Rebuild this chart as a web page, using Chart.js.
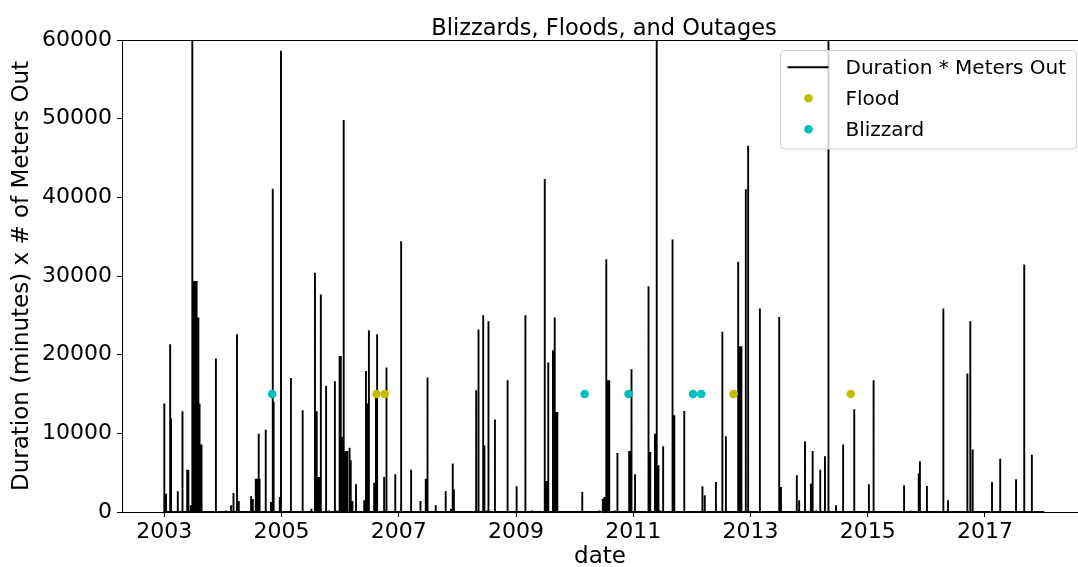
<!DOCTYPE html>
<html>
<head>
<meta charset="utf-8">
<title>Blizzards, Floods, and Outages</title>
<script src="https://cdn.jsdelivr.net/npm/chart.js@4/dist/chart.umd.min.js"></script>
<style>
  html, body { margin: 0; padding: 0; background: #fff; overflow: hidden; }
  #wrap { width: 1078px; height: 567px; position: relative; }
</style>
</head>
<body>
<div id="wrap"><canvas id="chart" width="1078" height="567"></canvas></div>
<script>
// Outage events: date (decimal year) and duration (minutes) x number of meters out
const outageDates = [
  2003.00, 2003.03, 2003.10, 2003.115, 2003.23, 2003.31, 2003.39, 2003.41, 2003.45, 2003.478,
  2003.495, 2003.505, 2003.515, 2003.525, 2003.535, 2003.545, 2003.555, 2003.565, 2003.575,
  2003.585, 2003.595, 2003.605, 2003.615, 2003.625, 2003.635, 2003.88,
  2004.05, 2004.14, 2004.18, 2004.24, 2004.27, 2004.48, 2004.51, 2004.56, 2004.575, 2004.59,
  2004.61, 2004.625, 2004.73, 2004.82, 2004.85, 2004.865, 2004.97, 2004.99,
  2005.16, 2005.36, 2005.51, 2005.57, 2005.585, 2005.60, 2005.615, 2005.63, 2005.645, 2005.67,
  2005.76, 2005.81, 2005.91, 2005.94, 2005.99,
  2006.01, 2006.03, 2006.06, 2006.09, 2006.12, 2006.16, 2006.18, 2006.21, 2006.27, 2006.41,
  2006.44, 2006.46, 2006.49, 2006.58, 2006.61, 2006.63, 2006.75, 2006.79, 2006.94,
  2007.04, 2007.21, 2007.37, 2007.46, 2007.49, 2007.63, 2007.80, 2007.89, 2007.92, 2007.94,
  2008.32, 2008.36, 2008.44, 2008.46, 2008.50, 2008.53, 2008.64, 2008.85, 2008.86,
  2009.01, 2009.16, 2009.27, 2009.49, 2009.52, 2009.55, 2009.63, 2009.66, 2009.675, 2009.69, 2009.705,
  2010.13, 2010.42, 2010.48, 2010.51, 2010.54, 2010.56, 2010.575, 2010.59, 2010.69, 2010.73,
  2010.93, 2010.95, 2010.97,
  2011.03, 2011.26, 2011.29, 2011.37, 2011.40, 2011.43, 2011.46, 2011.51, 2011.67, 2011.70, 2011.87,
  2012.18, 2012.22, 2012.41, 2012.52, 2012.58, 2012.79, 2012.815, 2012.83, 2012.845, 2012.92, 2012.96,
  2013.16, 2013.49, 2013.52, 2013.79, 2013.83, 2013.93,
  2014.03, 2014.06, 2014.12, 2014.19, 2014.27, 2014.33, 2014.46, 2014.58, 2014.77,
  2015.02, 2015.10, 2015.62, 2015.73, 2015.87, 2015.89,
  2016.01, 2016.29, 2016.37, 2016.70, 2016.75, 2016.79,
  2017.12, 2017.26, 2017.53, 2017.67, 2017.80
];
const outageValues = [
  13780, 2330, 21330, 11870, 2630, 12800, 5380, 5380, 850, 80000,
  29380, 29380, 29380, 29380, 29380, 29380, 24720, 24720, 24720,
  13780, 13780, 13780, 8565, 8565, 8565, 19500,
  200, 850, 2420, 22600, 1400, 2000, 1650, 4240, 4240, 4240,
  9960, 4240, 10470, 1270, 41090, 14000, 1900, 58640,
  17045, 12930, 400, 30400, 12800, 12800, 4450, 4450, 4450, 27645,
  16030, 200, 16620, 200, 19840,
  19840, 9540, 49820, 7760, 7760, 8180, 6570, 1400, 3520, 1480,
  17935, 13780, 23110, 3730, 14630, 22600, 4450, 18360, 4790,
  34430, 5380, 1400, 4240, 17090, 850, 2670, 400, 6150, 2880,
  15480, 23190, 25020, 8480, 200, 24250, 11745, 13780, 16750,
  3265, 25020, 200, 42315, 3940, 19000, 20560, 24720, 12720, 12720, 12720,
  2540, 200, 1700, 1900, 32140, 16750, 16750, 16750, 200, 7500,
  7760, 7760, 18150,
  4790, 28700, 7630, 9960, 80000, 5940, 200, 8350, 34640, 12300, 12850,
  3265, 2120, 3815, 22900, 9625, 31800, 21070, 21070, 21070, 41040, 46555,
  25860, 24800, 3180, 4660, 1480, 8990,
  3600, 7760, 200, 5380, 7080, 80000, 850, 8565, 13060,
  3520, 16750, 3390, 200, 4880, 6445,
  3300, 25860, 1480, 17600, 24250, 7930,
  3815, 6780, 4155, 31460, 7290
];
const seriesStart = 2003.0;
const seriesEnd = 2018.01;

// Storm events, marked at a fixed level
const floodDates = [2006.62, 2006.76, 2012.71, 2014.71];
const blizzardDates = [2004.84, 2010.17, 2010.92, 2012.02, 2012.16];
const eventLevel = 15000;

// Axis ticks
const yearTicks = [2003, 2005, 2007, 2009, 2011, 2013, 2015, 2017];
const valueTicks = [0, 10000, 20000, 30000, 40000, 50000, 60000];
const xRange = [2002.278, 2018.587];
const yRange = [0, 60000];

// Daily series: zero between outages, a vertical stroke at each outage
const outageSeries = [{ x: seriesStart, y: 0 }];
outageDates.forEach((d, i) => {
  outageSeries.push({ x: d, y: 0 }, { x: d, y: outageValues[i] }, { x: d, y: 0 });
});
outageSeries.push({ x: seriesEnd, y: 0 });

const floodPoints = floodDates.map(d => ({ x: d, y: eventLevel }));
const blizzardPoints = blizzardDates.map(d => ({ x: d, y: eventLevel }));

const FONT = 'DejaVu Sans';
Chart.defaults.color = '#000';
Chart.defaults.font.family = FONT;

// Title drawn above the plot area, and the top spine
const frameAndTitle = {
  id: 'frameAndTitle',
  afterDraw(chart) {
    const { ctx, chartArea: a } = chart;
    ctx.save();
    ctx.strokeStyle = '#000';
    ctx.lineWidth = 1;
    ctx.beginPath();
    ctx.moveTo(a.left, a.top + 0.5);
    ctx.lineTo(a.right, a.top + 0.5);
    ctx.stroke();
    ctx.fillStyle = '#000';
    ctx.font = '22.5px "' + FONT + '"';
    ctx.textAlign = 'center';
    ctx.textBaseline = 'alphabetic';
    ctx.fillText('Blizzards, Floods, and Outages', (a.left + a.right) / 2 + 4, a.top - 5);
    ctx.restore();
  }
};

// Legend box in the upper right of the plot area
const innerLegend = {
  id: 'innerLegend',
  afterDraw(chart) {
    const { ctx, chartArea: a } = chart;
    const ds = chart.data.datasets;
    const w = 296, h = 98.5;
    const x0 = a.right - 1.5 - w, y0 = a.top + 10.5;
    ctx.save();
    ctx.beginPath();
    ctx.roundRect(x0, y0, w, h, 4);
    ctx.fillStyle = 'rgba(255,255,255,0.8)';
    ctx.fill();
    ctx.strokeStyle = '#cccccc';
    ctx.lineWidth = 1;
    ctx.stroke();
    const rowY = [y0 + 16.8, y0 + 47.8, y0 + 78.8];
    const symX = x0 + 28, textX = x0 + 65;
    // line entry
    ctx.strokeStyle = ds[0].borderColor;
    ctx.lineWidth = ds[0].borderWidth;
    ctx.beginPath();
    ctx.moveTo(x0 + 7, rowY[0]);
    ctx.lineTo(x0 + 48, rowY[0]);
    ctx.stroke();
    // marker entries
    [1, 2].forEach((k, j) => {
      ctx.fillStyle = ds[k].backgroundColor;
      ctx.beginPath();
      ctx.arc(symX, rowY[j + 1], ds[k].pointRadius, 0, Math.PI * 2);
      ctx.fill();
    });
    ctx.fillStyle = '#000';
    ctx.font = '20px "' + FONT + '"';
    ctx.textAlign = 'left';
    ctx.textBaseline = 'middle';
    ds.forEach((d, i) => ctx.fillText(d.label, textX, rowY[i] + 1));
    ctx.restore();
  }
};

new Chart(document.getElementById('chart'), {
  type: 'line',
  data: {
    datasets: [
      {
        label: 'Duration * Meters Out',
        data: outageSeries,
        borderColor: '#000',
        borderWidth: 1.9,
        pointRadius: 0,
        tension: 0,
        fill: false,
        order: 3
      },
      {
        label: 'Flood',
        data: floodPoints,
        showLine: false,
        backgroundColor: '#bfbf00',
        borderColor: '#bfbf00',
        borderWidth: 0,
        pointRadius: 4.3,
        order: 1
      },
      {
        label: 'Blizzard',
        data: blizzardPoints,
        showLine: false,
        backgroundColor: '#00bfbf',
        borderColor: '#00bfbf',
        borderWidth: 0,
        pointRadius: 4.3,
        order: 2
      }
    ]
  },
  options: {
    responsive: false,
    animation: false,
    devicePixelRatio: 1,
    layout: { autoPadding: false, padding: { top: 40, left: 0, right: 0, bottom: 0 } },
    plugins: {
      legend: { display: false },
      title: { display: false },
      tooltip: { enabled: false }
    },
    scales: {
      x: {
        type: 'linear',
        min: xRange[0],
        max: xRange[1],
        afterBuildTicks: s => { s.ticks = yearTicks.map(v => ({ value: v })); },
        afterFit: s => { s.height = 55; s.paddingLeft = 0; s.paddingRight = 0; },
        ticks: {
          callback: v => String(v),
          font: { size: 22 },
          color: '#000',
          maxRotation: 0,
          autoSkip: false,
          padding: 2
        },
        grid: { display: true, drawOnChartArea: false, drawTicks: true, tickLength: 5, color: '#000', lineWidth: 1 },
        border: { display: true, color: '#000', width: 1 },
        title: { display: true, text: 'date', font: { size: 23 }, color: '#000', padding: { top: 0, bottom: -4 } }
      },
      y: {
        type: 'linear',
        min: yRange[0],
        max: yRange[1],
        afterBuildTicks: s => { s.ticks = valueTicks.map(v => ({ value: v })); },
        afterFit: s => { s.width = 122; s.paddingTop = 0; s.paddingBottom = 0; },
        ticks: {
          callback: v => String(v),
          font: { size: 22 },
          color: '#000',
          padding: 5
        },
        grid: { display: true, drawOnChartArea: false, drawTicks: true, tickLength: 5, color: '#000', lineWidth: 1 },
        border: { display: true, color: '#000', width: 1 },
        title: { display: true, text: 'Duration (minutes) x # of Meters Out', font: { size: 23 }, color: '#000', padding: { top: 8, bottom: 0 } }
      }
    }
  },
  plugins: [frameAndTitle, innerLegend]
});
</script>
</body>
</html>
